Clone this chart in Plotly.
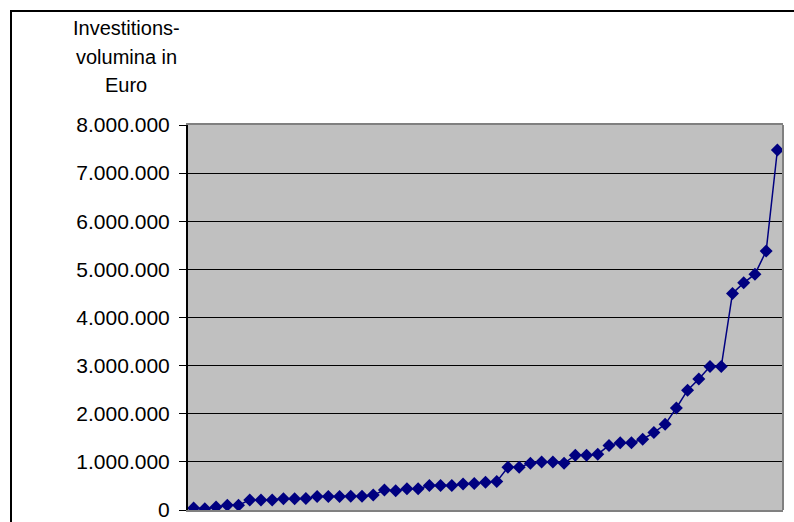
import plotly.graph_objects as go

categories = list(range(1, 54))
values = [40000, 25000, 60000, 100000, 100000, 210000, 210000, 210000, 235000, 235000,
          240000, 280000, 280000, 280000, 285000, 285000, 310000, 415000,
          400000, 440000, 440000, 510000, 510000, 510000, 540000, 550000, 575000, 590000,
          890000, 890000, 970000, 1000000, 1000000, 970000, 1140000, 1140000,
          1160000, 1340000, 1400000, 1400000, 1470000, 1610000, 1780000, 2120000, 2490000,
          2720000, 2980000, 2980000, 4500000, 4720000, 4900000, 5380000, 7480000]
tick_vals = [0, 1000000, 2000000, 3000000, 4000000, 5000000, 6000000, 7000000, 8000000]
tick_text = ["0", "1.000.000", "2.000.000", "3.000.000", "4.000.000",
             "5.000.000", "6.000.000", "7.000.000", "8.000.000"]
title_lines = ["Investitions-", "volumina in", "Euro"]

W, H = 794, 522
L, R, T, B = 188, 11, 125, 12
pw, ph = W - L - R, H - T - B

def px(x):
    return (x - L) / pw

def py(y):
    return (H - B - y) / ph

fig = go.Figure()
fig.add_trace(go.Scatter(
    x=categories, y=values, mode="lines+markers",
    line=dict(color="#000080", width=1.5),
    marker=dict(symbol="diamond", size=10, color="#000080"),
    showlegend=False, hoverinfo="skip"))

font = dict(family="Liberation Sans, Arial, sans-serif", size=20, color="black")
tfont = dict(family="Liberation Sans, Arial, sans-serif", size=21, color="black")

fig.update_layout(
    width=W, height=H, margin=dict(l=L, r=R, t=T, b=B, autoexpand=False),
    paper_bgcolor="white", plot_bgcolor="#C0C0C0",
    font=font,
    xaxis=dict(range=[0.5, 53.5], showticklabels=False, showgrid=False, zeroline=False,
               showline=True, mirror=True, linecolor="#808080", linewidth=2, ticks="",
               automargin=False),
    yaxis=dict(range=[0, 8000000], tickvals=tick_vals, ticktext=tick_text,
               showgrid=True, gridcolor="black", gridwidth=1, zeroline=False,
               showline=True, linecolor="black", linewidth=2,
               ticks="outside", ticklen=7, tickcolor="black", tickwidth=1,
               ticklabelstandoff=5, tickfont=tfont, automargin=False),
)

# right plot edge (gray)
fig.add_shape(type="line", xref="paper", yref="paper", x0=1, x1=1, y0=0, y1=1,
              line=dict(color="#808080", width=2))
# outer chart border
fig.add_shape(type="rect", xref="paper", yref="paper",
              x0=px(11), x1=px(800), y0=py(540), y1=py(11),
              line=dict(color="black", width=2), layer="below")

for i, (txt, yc) in enumerate(zip(title_lines, [28, 57, 85])):
    fig.add_annotation(text=txt, xref="paper", yref="paper", x=px(126), y=py(yc),
                       xanchor="center", yanchor="middle", showarrow=False, font=font)

fig.write_html("out.html")
